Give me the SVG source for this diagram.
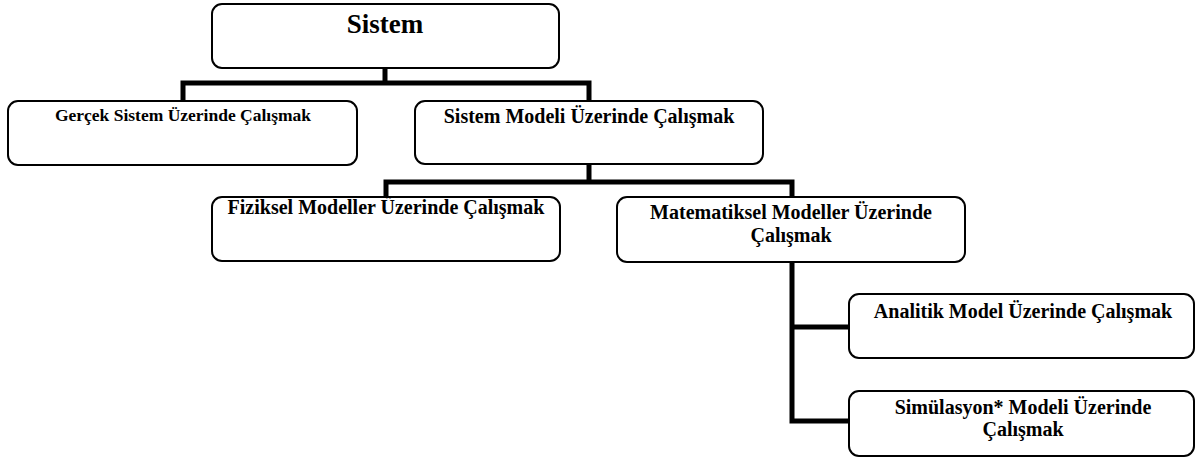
<svg xmlns="http://www.w3.org/2000/svg" width="1196" height="458" viewBox="0 0 1196 458">
<style>
.box{fill:#fff;stroke:#000;stroke-width:2}
.t{font-family:"Liberation Serif","Times New Roman",serif;font-weight:bold;fill:#000;text-anchor:middle;font-size:20px}
.c{fill:none;stroke:#000;stroke-width:5;stroke-linejoin:miter;stroke-linecap:butt}
</style>
<rect width="1196" height="458" fill="#fff"/>
<g id="connectors">
<path class="c" d="M385 68 V83"/>
<path class="c" d="M183 101 V83 H589 V101"/>
<path class="c" d="M589 164 V182"/>
<path class="c" d="M386 197 V182 H792 V197"/>
<path class="c" d="M792 262 V421 H849"/>
<path class="c" d="M792 327 H849"/>
</g>
<g id="sistem">
<rect class="box" x="212" y="4" width="347" height="64" rx="10"/>
<text class="t" x="385" y="33" style="font-size:27px">Sistem</text>
</g>
<g id="gercek">
<rect class="box" x="8" y="101" width="349" height="64" rx="10"/>
<text class="t" x="183" y="121" style="font-size:17.5px">Gerçek Sistem Üzerinde Çalışmak</text>
</g>
<g id="sistem-modeli">
<rect class="box" x="415" y="101" width="348" height="63" rx="10"/>
<text class="t" x="589" y="123">Sistem Modeli Üzerinde Çalışmak</text>
</g>
<g id="fiziksel">
<rect class="box" x="212" y="197" width="348" height="64" rx="10"/>
<text class="t" x="386" y="214">Fiziksel Modeller Üzerinde Çalışmak</text>
</g>
<g id="matematiksel">
<rect class="box" x="617" y="197" width="348" height="65" rx="10"/>
<text class="t" x="791" y="219">Matematiksel Modeller Üzerinde</text>
<text class="t" x="791" y="242">Çalışmak</text>
</g>
<g id="analitik">
<rect class="box" x="849" y="294" width="345" height="64" rx="10"/>
<text class="t" x="1023" y="318">Analitik Model Üzerinde Çalışmak</text>
</g>
<g id="simulasyon">
<rect class="box" x="849" y="391" width="345" height="65" rx="10"/>
<text class="t" x="1023" y="414">Simülasyon* Modeli Üzerinde</text>
<text class="t" x="1023" y="436">Çalışmak</text>
</g>
</svg>
